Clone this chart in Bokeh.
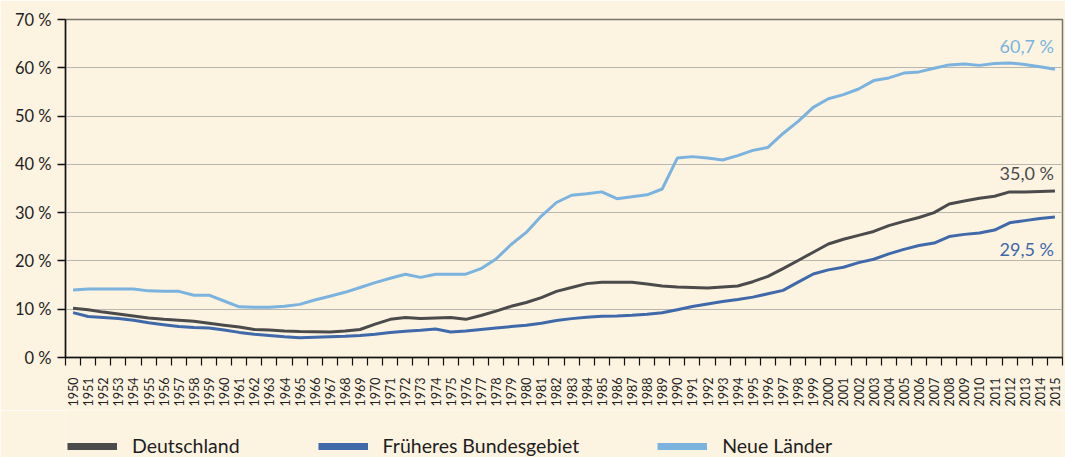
import math
from bokeh.plotting import figure
from bokeh.layouts import column
from bokeh.models import ColumnDataSource, Range1d, FixedTicker, Legend, LegendItem
from bokeh.core.properties import value
from bokeh.embed import file_html
from bokeh.resources import INLINE

years = list(range(1950, 2016))

deutschland = [10.2, 9.9, 9.4, 9.0, 8.6, 8.2, 7.9, 7.7, 7.5, 7.1,
               6.7, 6.3, 5.8, 5.7, 5.5, 5.4, 5.35, 5.3, 5.5, 5.8,
               6.9, 7.9, 8.3, 8.1, 8.2, 8.3, 7.9, 8.7, 9.6, 10.6,
               11.4, 12.4, 13.7, 14.5, 15.3, 15.6, 15.6, 15.6, 15.2, 14.8,
               14.6, 14.5, 14.4, 14.6, 14.8, 15.7, 16.8, 18.4, 20.1, 21.8,
               23.5, 24.5, 25.3, 26.1, 27.3, 28.2, 29.0, 30.0, 31.8, 32.4,
               33.0, 33.4, 34.3, 34.3, 34.4, 34.5]

frueheres_bundesgebiet = [9.3, 8.5, 8.3, 8.1, 7.7, 7.2, 6.8, 6.4, 6.2, 6.1,
                          5.7, 5.2, 4.8, 4.55, 4.3, 4.1, 4.2, 4.3, 4.4, 4.55,
                          4.8, 5.2, 5.45, 5.65, 5.9, 5.3, 5.5, 5.8, 6.1, 6.4,
                          6.7, 7.1, 7.65, 8.05, 8.35, 8.55, 8.6, 8.75, 8.95, 9.25,
                          9.9, 10.55, 11.1, 11.6, 12.0, 12.5, 13.2, 13.9, 15.6, 17.3,
                          18.15, 18.7, 19.65, 20.35, 21.45, 22.4, 23.2, 23.7, 25.05, 25.5,
                          25.8, 26.4, 27.9, 28.35, 28.8, 29.1]

neue_laender = [14.0, 14.2, 14.2, 14.2, 14.2, 13.8, 13.7, 13.7, 12.9, 12.9,
                11.7, 10.5, 10.4, 10.4, 10.6, 11.0, 11.9, 12.7, 13.5, 14.5,
                15.5, 16.4, 17.25, 16.6, 17.25, 17.25, 17.25, 18.4, 20.4, 23.4,
                25.9, 29.3, 32.1, 33.6, 33.9, 34.3, 32.9, 33.3, 33.7, 34.9,
                41.3, 41.6, 41.3, 40.9, 41.8, 42.9, 43.5, 46.4, 48.9, 51.8,
                53.6, 54.45, 55.6, 57.35, 57.9, 58.9, 59.15, 59.9, 60.6, 60.8,
                60.5, 60.9, 61.0, 60.7, 60.2, 59.7]

series_names = ["Deutschland", "Früheres Bundesgebiet", "Neue Länder"]
end_labels = ["35,0 %", "29,5 %", "60,7 %"]
y_ticks = [0, 10, 20, 30, 40, 50, 60, 70]
y_tick_labels = ["0 %", "10 %", "20 %", "30 %", "40 %", "50 %", "60 %", "70 %"]

FONT = "Lato"
BG = "#fdf3e1"
COLORS = ["#4b4b4b", "#3f69a8", "#7bb3de"]
LABEL_YOFF = [-18, 32, -23]

p = figure(width=1065, height=410, output_backend="svg", toolbar_location=None,
           x_range=Range1d(years[0] - 0.5, years[-1] + 0.5), y_range=Range1d(0, 70),
           min_border_left=65, min_border_right=3, min_border_top=19, min_border_bottom=53)
p.background_fill_color = BG
p.border_fill_color = BG
p.outline_line_color = "#77736b"
p.outline_line_width = 1.5

# lines
all_series = [deutschland, frueheres_bundesgebiet, neue_laender]
for vals, col in zip(all_series, COLORS):
    src = ColumnDataSource(dict(x=years, y=vals))
    p.line("x", "y", source=src, line_color=col, line_width=3)

# end labels
lab_src = ColumnDataSource(dict(
    x=[years[-1]] * 3,
    y=[s[-1] for s in all_series],
    text=end_labels,
    color=COLORS,
    yoff=LABEL_YOFF,
))
p.text("x", "y", text="text", source=lab_src, text_color="color", y_offset="yoff",
       x_offset=-1, text_font=value(FONT), text_font_size="18px",
       text_align="right", text_baseline="middle")

# axes
yt = FixedTicker(ticks=y_ticks, minor_ticks=[])
p.yaxis.ticker = yt
p.yaxis.major_label_overrides = {t: l for t, l in zip(y_ticks, y_tick_labels)}
p.yaxis.major_label_text_font = FONT
p.yaxis.major_label_text_font_size = "16.5px"
p.yaxis.major_label_text_color = "#1e1e1e"
p.yaxis.major_label_standoff = 6
p.yaxis.axis_line_color = "#111111"
p.yaxis.axis_line_width = 1.5
p.yaxis.major_tick_out = 8
p.yaxis.major_tick_in = 0
p.yaxis.major_tick_line_color = "#111111"
p.yaxis.major_tick_line_width = 1.5
p.yaxis.minor_tick_line_color = None

xt = FixedTicker(ticks=years, minor_ticks=[y - 0.5 for y in years] + [years[-1] + 0.5])
p.xaxis.ticker = xt
p.xaxis.major_label_overrides = {y: str(y) for y in years}
p.xaxis.major_label_orientation = math.pi / 2
p.xaxis.major_label_text_font = FONT
p.xaxis.major_label_text_font_size = "12.5px"
p.xaxis.major_label_text_color = "#1e1e1e"
p.xaxis.major_label_standoff = 12
p.xaxis.major_tick_line_color = None
p.xaxis.major_tick_out = 8
p.xaxis.major_tick_in = 0
p.xaxis.minor_tick_line_color = "#111111"
p.xaxis.minor_tick_line_width = 1.2
p.xaxis.minor_tick_out = 8
p.xaxis.minor_tick_in = 0
p.xaxis.axis_line_color = "#111111"
p.xaxis.axis_line_width = 1.5

p.xgrid.grid_line_color = None
p.ygrid.ticker = yt
p.ygrid.grid_line_color = "#b9b6b0"
p.ygrid.grid_line_width = 1.2

# legend strip as its own small figure
lg = figure(width=1065, height=47, output_backend="svg", toolbar_location=None,
            x_range=Range1d(0, 1), y_range=Range1d(0, 1), min_border=0,
            x_axis_location=None, y_axis_location=None)
lg.background_fill_color = BG
lg.border_fill_color = BG
lg.outline_line_color = None
lg.grid.grid_line_color = None
items = []
for name, col in zip(series_names, COLORS):
    r = lg.line(x=[0], y=[float("nan")], line_color=col, line_width=7)
    items.append(LegendItem(label=name, renderers=[r]))
legend = Legend(items=items, orientation="horizontal", location=(2, 0),
                glyph_width=50, glyph_height=22, label_standoff=15, spacing=78,
                padding=0, margin=0, border_line_color=None,
                background_fill_alpha=0, label_text_font=FONT,
                label_text_font_size="19.5px", label_text_color="#1e1e1e")
lg.add_layout(legend, "center")

layout = column(p, lg, spacing=0)
open("out.html", "w").write(file_html(layout, INLINE))
